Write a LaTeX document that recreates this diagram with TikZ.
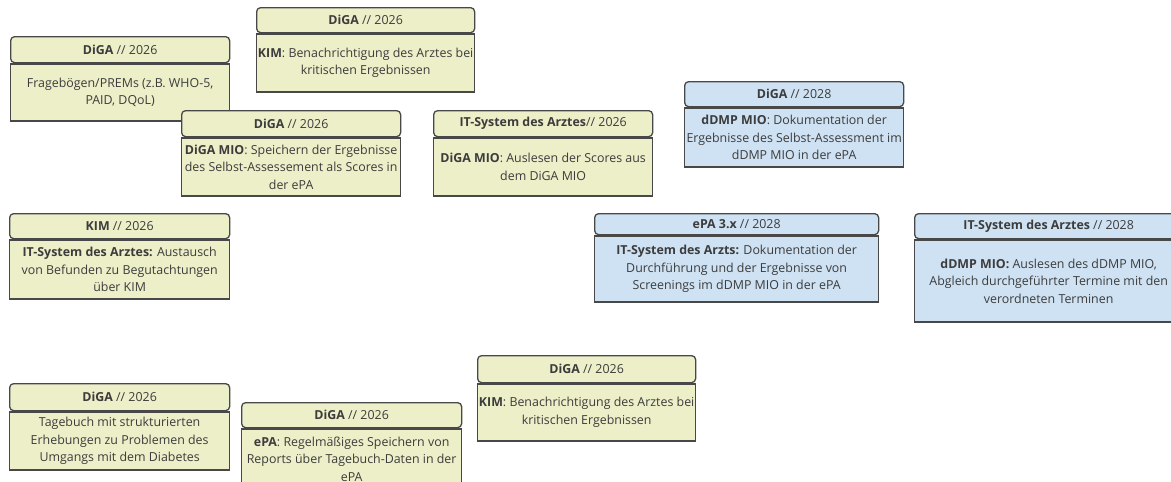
\documentclass[tikz,border=0pt]{standalone}
\usepackage{fontspec}
\setmainfont{Open Sans}
\usetikzlibrary{positioning}

\definecolor{cardgreen}{RGB}{237,239,201}
\definecolor{cardblue}{RGB}{207,226,243}
\definecolor{cardedge}{RGB}{72,72,72}
\definecolor{cardtext}{RGB}{60,60,60}

\begin{document}
\begin{tikzpicture}[x=1pt,y=-1pt,
  head/.style={draw=cardedge, line width=1.3pt, rounded corners=4pt, inner sep=0pt,
    anchor=north west, align=center, text=cardtext, font=\fontsize{12.4}{17.5}\selectfont},
  body/.style={draw=cardedge, line width=1.3pt, inner sep=0pt,
    align=center, text=cardtext, font=\fontsize{12.4}{17.5}\selectfont}]

\useasboundingbox (0,0) rectangle (1171,482);
\clip (0,0) rectangle (1171,482);

% DiGA 2026 cards, upper left
\node [head, fill=cardgreen, minimum width=219, minimum height=26] (fbH) at (10,36) {\textbf{DiGA} // 2026};
\node [body, fill=cardgreen, minimum width=219, minimum height=57, below=0pt of fbH] (fbB) {Fragebögen/PREMs (z.B. WHO-5,\\PAID, DQoL)};

\node [head, fill=cardgreen, minimum width=218, minimum height=25] (kimaH) at (256,7) {\textbf{DiGA} // 2026};
\node [body, fill=cardgreen, minimum width=218, minimum height=58, below=0pt of kimaH] (kimaB) {\textbf{KIM}: Benachrichtigung des Arztes bei\\kritischen Ergebnissen};

\node [head, fill=cardgreen, minimum width=219, minimum height=26] (mioH) at (181,110) {\textbf{DiGA} // 2026};
\node [body, fill=cardgreen, minimum width=219, minimum height=58, below=0pt of mioH] (mioB) {\textbf{DiGA MIO}: Speichern der Ergebnisse\\des Selbst-Assessement als Scores in\\der ePA};

\node [head, fill=cardgreen, minimum width=219, minimum height=26] (itaH) at (433,110) {\textbf{IT-System des Arztes}// 2026};
\node [body, fill=cardgreen, minimum width=219, minimum height=58, below=0pt of itaH] (itaB) {\textbf{DiGA MIO}: Auslesen der Scores aus\\dem DiGA MIO};

% 2028 cards
\node [head, fill=cardblue, minimum width=219, minimum height=25] (dmpH) at (684,81) {\textbf{DiGA} // 2028};
\node [body, fill=cardblue, minimum width=219, minimum height=59, below=0pt of dmpH] (dmpB) {\textbf{dDMP MIO}: Dokumentation der\\Ergebnisse des Selbst-Assessment im\\dDMP MIO in der ePA};

\node [head, fill=cardblue, minimum width=284, minimum height=21] (epaH) at (594,213) {\textbf{ePA 3.x} // 2028};
\node [body, fill=cardblue, minimum width=284, minimum height=66, below=0pt of epaH] (epaB) {\textbf{IT-System des Arzts:} Dokumentation der\\Durchführung und der Ergebnisse von\\Screenings im dDMP MIO in der ePA};

\node [head, fill=cardblue, minimum width=268, minimum height=25] (itbH) at (914,213) {\textbf{IT-System des Arztes} // 2028};
\node [body, fill=cardblue, minimum width=268, minimum height=82, below=0pt of itbH] (itbB) {\textbf{dDMP MIO:} Auslesen des dDMP MIO,\\Abgleich durchgeführter Termine mit den\\verordneten Terminen};

% KIM 2026
\node [head, fill=cardgreen, minimum width=220, minimum height=25] (kimbH) at (9,213) {\textbf{KIM} // 2026};
\node [body, fill=cardgreen, minimum width=220, minimum height=59, below=0pt of kimbH] (kimbB) {\textbf{IT-System des Arztes:} Austausch\\von Befunden zu Begutachtungen\\über KIM};

% Tagebuch cards, bottom
\node [head, fill=cardgreen, minimum width=220, minimum height=27] (tbH) at (9,383) {\textbf{DiGA} // 2026};
\node [body, fill=cardgreen, minimum width=220, minimum height=58, below=0pt of tbH] (tbB) {Tagebuch mit strukturierten\\Erhebungen zu Problemen des\\Umgangs mit dem Diabetes};

\node [head, fill=cardgreen, minimum width=220, minimum height=25] (repH) at (241,402) {\textbf{DiGA} // 2026};
\node [body, fill=cardgreen, minimum width=220, minimum height=60, below=0pt of repH] (repB) {\textbf{ePA}: Regelmäßiges Speichern von\\Reports über Tagebuch-Daten in der\\ePA};

\node [head, fill=cardgreen, minimum width=218, minimum height=27] (kimcH) at (477,355) {\textbf{DiGA} // 2026};
\node [body, fill=cardgreen, minimum width=218, minimum height=57, below=0pt of kimcH] (kimcB) {\textbf{KIM}: Benachrichtigung des Arztes bei\\kritischen Ergebnissen};

\end{tikzpicture}
\end{document}
